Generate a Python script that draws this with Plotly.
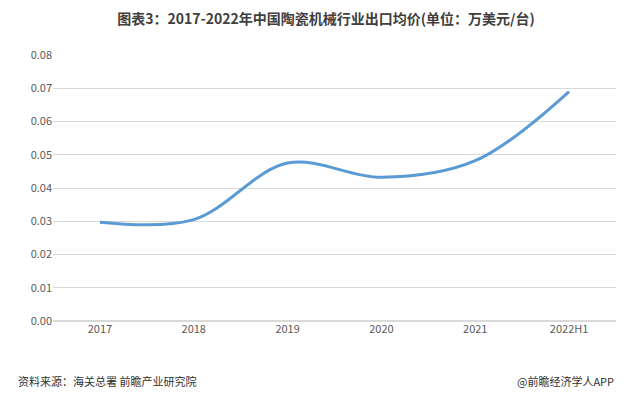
import plotly.graph_objects as go

years = ["2017", "2018", "2019", "2020", "2021", "2022H1"]
prices = [0.0297, 0.0305, 0.0475, 0.0432, 0.0482, 0.0690]
y_ticks = [0, 0.01, 0.02, 0.03, 0.04, 0.05, 0.06, 0.07, 0.08]

fig = go.Figure()
fig.add_trace(go.Scatter(
    x=years, y=prices, mode="lines",
    line=dict(color="#5b9bd5", width=3, shape="spline", smoothing=1.0),
))

fig.update_layout(
    width=636, height=403,
    margin=dict(l=45, r=28, t=47, b=90),
    paper_bgcolor="white", plot_bgcolor="white",
    font=dict(family="Noto Sans CJK SC", color="#595959", size=11),
    title=dict(text="<b>图表3：2017-2022年中国陶瓷机械行业出口均价(单位：万美元/台)</b>",
               x=0.5, xanchor="center", y=0.985, yanchor="top",
               font=dict(size=14, color="#404040")),
    xaxis=dict(showgrid=False, showline=False, ticks="", range=[-0.5, 5.5]),
    yaxis=dict(range=[0, 0.08], tickvals=y_ticks, tickformat=".2f",
               gridcolor="#d9d9d9", zeroline=True, zerolinecolor="#d9d9d9",
               showline=False),
    showlegend=False,
)
fig.add_annotation(text="资料来源：海关总署 前瞻产业研究院", xref="paper", yref="paper",
                   x=-0.065, y=-0.265, xanchor="left", showarrow=False,
                   font=dict(size=11, color="#333333"))
fig.add_annotation(text="@前瞻经济学人APP", xref="paper", yref="paper",
                   x=1.0, y=-0.265, xanchor="right", showarrow=False,
                   font=dict(size=11, color="#333333"))

fig.write_html("out.html")
